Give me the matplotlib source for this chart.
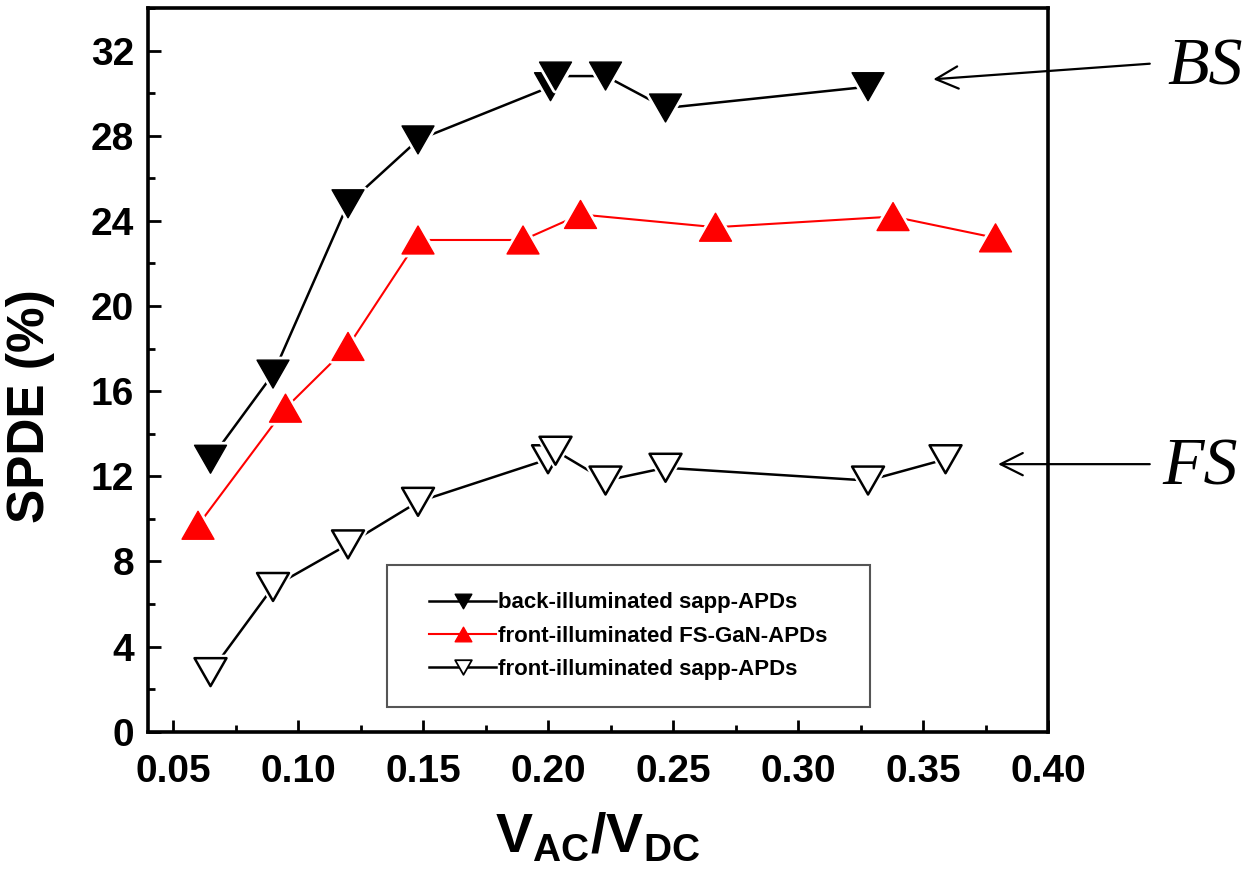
import matplotlib
matplotlib.use("Agg")
import matplotlib.pyplot as plt
import matplotlib.patheffects as pe
from matplotlib.lines import Line2D
from matplotlib.patches import Rectangle
from matplotlib.path import Path
from matplotlib.ticker import MultipleLocator

plt.rcParams['font.family'] = ['Liberation Sans', 'DejaVu Sans']
plt.rcParams['mathtext.fontset'] = 'custom'
plt.rcParams['mathtext.rm'] = 'Liberation Sans'
plt.rcParams['mathtext.bf'] = 'Liberation Sans:bold'

# SPDE vs V_AC/V_DC for three kinds of APDs
bs_x = [0.065, 0.090, 0.120, 0.148, 0.201, 0.203, 0.223, 0.247, 0.328]
bs_y = [12.8, 16.8, 24.8, 27.8, 30.3, 30.8, 30.8, 29.3, 30.3]

gan_x = [0.060, 0.095, 0.120, 0.148, 0.190, 0.213, 0.267, 0.338, 0.379]
gan_y = [9.7, 15.2, 18.1, 23.1, 23.1, 24.3, 23.7, 24.2, 23.2]

fs_x = [0.065, 0.090, 0.120, 0.148, 0.200, 0.203, 0.223, 0.247, 0.328, 0.359]
fs_y = [2.8, 6.8, 8.8, 10.8, 12.8, 13.2, 11.8, 12.4, 11.8, 12.8]

labels = ['back-illuminated sapp-APDs',
          'front-illuminated FS-GaN-APDs',
          'front-illuminated sapp-APDs']

# slightly flattened triangles
down_tri = Path([(-1, 0.875), (1, 0.875), (0, -0.875), (-1, 0.875)], closed=True)
up_tri = Path([(-1, -0.875), (1, -0.875), (0, 0.875), (-1, -0.875)], closed=True)

fig = plt.figure(figsize=(12.49, 8.83), dpi=100)
ax = fig.add_axes([0.1185, 0.1713, 0.7206, 0.8197])

halo = [pe.withStroke(linewidth=5, foreground='white')]
ms = 23

ax.plot(bs_x, bs_y, color='black', lw=1.8, zorder=2)
ax.plot(bs_x, bs_y, ls='none', marker=down_tri, ms=ms, mfc='black', mec='black',
        mew=1, path_effects=halo, zorder=3)

ax.plot(gan_x, gan_y, color='red', lw=1.5, zorder=2)
ax.plot(gan_x, gan_y, ls='none', marker=up_tri, ms=ms, mfc='red', mec='red',
        mew=1, path_effects=halo, zorder=3)

ax.plot(fs_x, fs_y, color='black', lw=1.8, zorder=2)
ax.plot(fs_x, fs_y, ls='none', marker=down_tri, ms=ms, mfc='white', mec='black',
        mew=1.8, path_effects=halo, zorder=3)

ax.set_xlim(0.04, 0.40)
ax.set_ylim(0, 34)
ax.xaxis.set_major_locator(MultipleLocator(0.05))
ax.xaxis.set_minor_locator(MultipleLocator(0.025))
ax.yaxis.set_major_locator(MultipleLocator(4))
ax.yaxis.set_minor_locator(MultipleLocator(2))
ax.set_xticks([0.05, 0.10, 0.15, 0.20, 0.25, 0.30, 0.35, 0.40])
ax.set_xticklabels(['0.05', '0.10', '0.15', '0.20', '0.25', '0.30', '0.35', '0.40'])

for s in ax.spines.values():
    s.set_linewidth(2.6)
ax.tick_params(which='both', direction='in', top=False, right=False, width=2)
ax.tick_params(which='major', length=9, labelsize=28)
ax.tick_params(axis='x', which='major', pad=16)
ax.tick_params(axis='y', which='major', pad=10)
ax.tick_params(which='minor', length=5)
for t in ax.get_xticklabels() + ax.get_yticklabels():
    t.set_fontweight('bold')

ax.set_ylabel('SPDE (%)', fontsize=37, fontweight='bold')
ax.yaxis.set_label_coords(-0.103, 0.45)
ax.set_xlabel(r'$\mathbf{V}_{\mathbf{AC}}\mathbf{/V}_{\mathbf{DC}}$', fontsize=40)
ax.xaxis.set_label_coords(0.5, -0.11)

# legend: frame drawn as its own box, entries centred inside it
ax.add_patch(Rectangle((0.2656, 0.034), 0.537, 0.196, transform=ax.transAxes,
                       facecolor='white', edgecolor='#555555', lw=1.5, zorder=4))
handles = [
    Line2D([], [], color='black', lw=1.8, marker=down_tri, ms=12, mfc='black', mec='black'),
    Line2D([], [], color='red', lw=1.5, marker=up_tri, ms=12, mfc='red', mec='red'),
    Line2D([], [], color='black', lw=1.8, marker=down_tri, ms=12, mfc='white', mec='black', mew=1.3),
]
leg = ax.legend(handles, labels, loc='center', bbox_to_anchor=(0.534, 0.132),
                prop={'size': 16, 'weight': 'bold'}, frameon=False,
                handlelength=3.0, handletextpad=0.1, labelspacing=0.55,
                borderpad=0, borderaxespad=0)
leg.set_zorder(5)

# BS / FS callouts
arrow = dict(arrowstyle='->,head_length=1.6,head_width=0.8', lw=1.6, color='black')
ax.annotate('', xy=(0.353, 30.64), xytext=(0.4418, 31.39), arrowprops=arrow,
            annotation_clip=False)
ax.annotate('', xy=(0.3789, 12.57), xytext=(0.4418, 12.57), arrowprops=arrow,
            annotation_clip=False)
ax.text(0.4629, 31.2, 'BS', fontsize=49, style='italic', family='Liberation Serif',
        ha='center', va='center', clip_on=False)
ax.text(0.461, 12.4, 'FS', fontsize=49, style='italic', family='Liberation Serif',
        ha='center', va='center', clip_on=False)

fig.savefig('out.png', dpi=100)
